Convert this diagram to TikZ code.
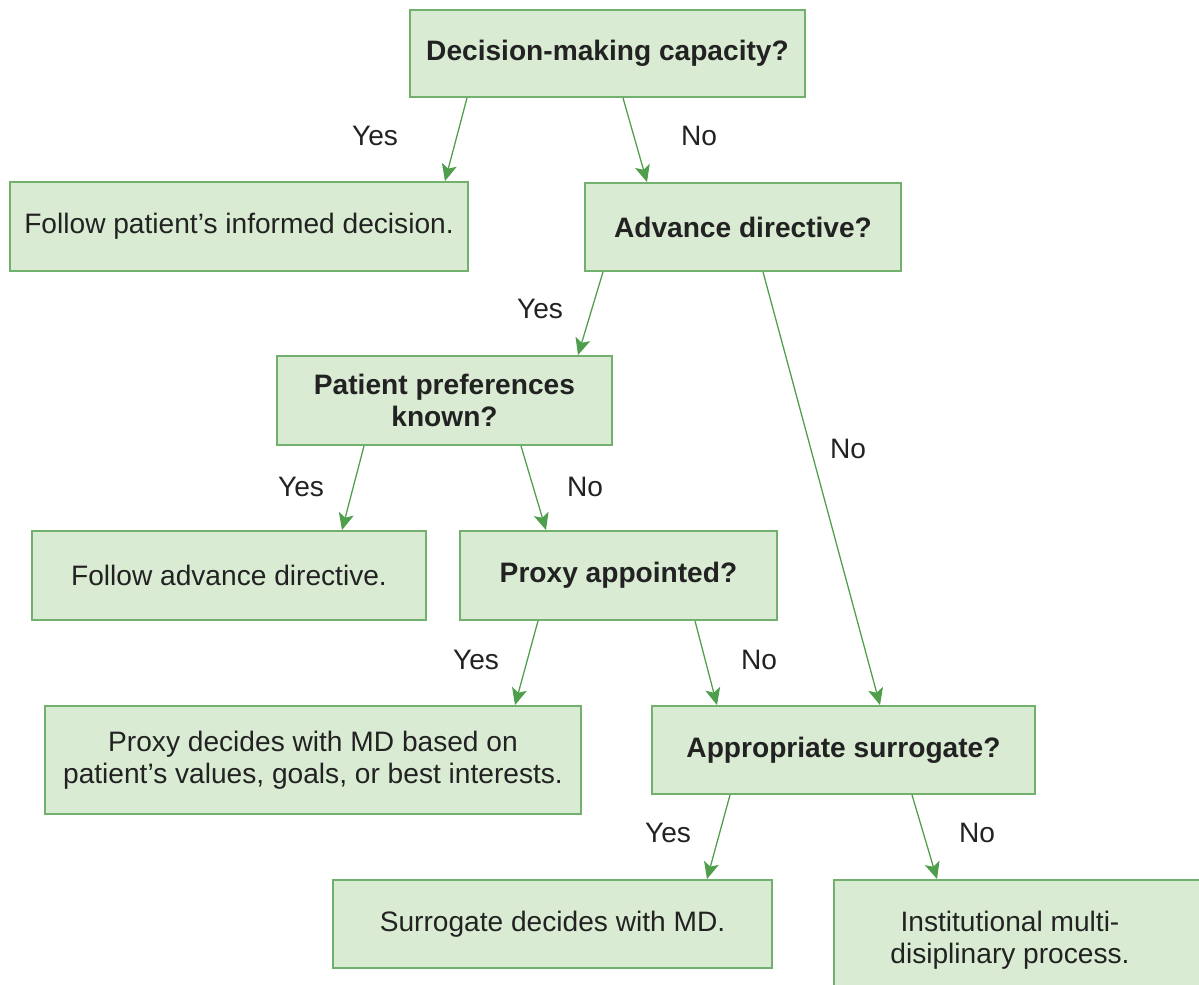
\documentclass[tikz,border=0pt]{standalone}
\usepackage{fontspec}
\setmainfont{Liberation Sans}
\usetikzlibrary{arrows.meta}
\definecolor{boxfill}{HTML}{DAEBD3}
\definecolor{boxline}{HTML}{72B06E}
\definecolor{arrowgreen}{HTML}{4E9E4B}
\definecolor{textgrey}{HTML}{222222}
\begin{document}
\begin{tikzpicture}[x=0.025cm, y=-0.025cm,
    box/.style={draw=boxline, fill=boxfill, line width=1.3pt, align=center,
        inner sep=0pt, text=textgrey, font=\fontsize{20}{23}\selectfont},
    question/.style={box, font=\fontsize{20}{23}\selectfont\bfseries},
    arr/.style={-{Stealth[length=0.42cm,width=0.38cm,inset=0.1cm]}, draw=arrowgreen, line width=0.9pt},
    answer/.style={text=textgrey, font=\fontsize{20}{23}\selectfont}]
    % Page size
    \useasboundingbox (0,0) rectangle (1199,985);

    % Draw the question boxes
    \node[question, minimum width=9.875cm, minimum height=2.175cm] (capacity) at (607.5,53.5) {Decision-making capacity?};
    \node[question, minimum width=7.9cm, minimum height=2.2cm] (directive) at (743,227) {Advance directive?};
    \node[question, minimum width=8.375cm, minimum height=2.225cm] (known) at (444.5,400.5) {Patient preferences\\known?};
    \node[question, minimum width=7.925cm, minimum height=2.225cm] (proxy) at (618.5,575.5) {Proxy appointed?};
    \node[question, minimum width=9.575cm, minimum height=2.2cm] (surrogate) at (843.5,750) {Appropriate surrogate?};

    % Draw the outcome boxes
    \node[box, minimum width=11.45cm, minimum height=2.225cm] (informed) at (239,226.5) {Follow patient's informed decision.};
    \node[box, minimum width=9.85cm, minimum height=2.225cm] (followad) at (229,575.5) {Follow advance directive.};
    \node[box, minimum width=13.4cm, minimum height=2.7cm] (proxydecides) at (313,760) {Proxy decides with MD based on\\patient's values, goals, or best interests.};
    \node[box, minimum width=10.975cm, minimum height=2.2cm] (surrdecides) at (552.5,924) {Surrogate decides with MD.};
    \node[box, minimum width=11cm, minimum height=3cm] (process) at (1054,940) {Institutional multi-\hspace*{2.2cm}\\disiplinary process.\hspace*{2.2cm}}; % box runs off the page

    % Draw the arrows
    \draw[arr] (capacity.south -| 467,0) -- (informed.north -| 445,0);
    \draw[arr] (capacity.south -| 623,0) -- (directive.north -| 647,0);
    \draw[arr] (directive.south -| 603,0) -- (known.north -| 578,0);
    \draw[arr] (directive.south -| 763,0) -- (surrogate.north -| 880,0);
    \draw[arr] (known.south -| 364,0) -- (followad.north -| 342,0);
    \draw[arr] (known.south -| 521,0) -- (proxy.north -| 546,0);
    \draw[arr] (proxy.south -| 538,0) -- (proxydecides.north -| 515,0);
    \draw[arr] (proxy.south -| 695,0) -- (surrogate.north -| 717,0);
    \draw[arr] (surrogate.south -| 730,0) -- (surrdecides.north -| 707,0);
    \draw[arr] (surrogate.south -| 912,0) -- (process.north -| 937,0);

    % Add Yes / No labels
    \node[answer] (y1) at (375,136) {Yes};
    \node[answer] (n1) at (699,136) {No};
    \node[answer] (y2) at (540,309) {Yes};
    \node[answer] (n2) at (848,449) {No};
    \node[answer] (y3) at (301,487) {Yes};
    \node[answer] (n3) at (585,487) {No};
    \node[answer] (y4) at (476,660) {Yes};
    \node[answer] (n4) at (759,660) {No};
    \node[answer] (y5) at (668,833) {Yes};
    \node[answer] (n5) at (977,833) {No};
\end{tikzpicture}
\end{document}
